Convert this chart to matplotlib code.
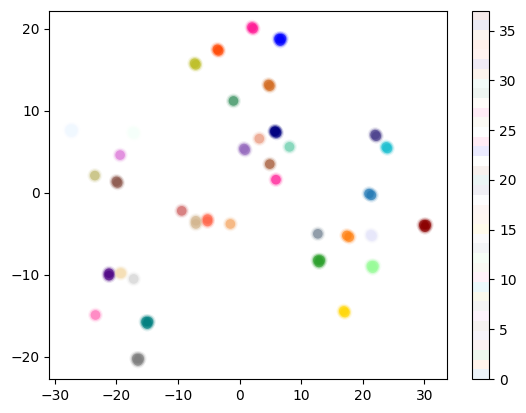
import numpy as np
import matplotlib
matplotlib.use('Agg')
import matplotlib.pyplot as plt
from matplotlib.colors import ListedColormap, Normalize

# one colour per cluster label (0..37)
colors = ['tab:blue', 'tab:orange', 'tab:green', 'indianred', 'tab:purple',
          'tab:brown', 'orchid', 'tab:gray', 'tab:olive', 'tab:cyan',
          'hotpink', 'darkkhaki', 'palegreen', 'slategray', 'lightgray',
          'gold', 'sandybrown', 'darksalmon', 'lavender', 'darkslateblue',
          'teal', 'sienna', 'mintcream', 'blue', 'deeppink',
          'aliceblue', 'tan', 'deeppink', 'wheat', 'seagreen',
          'mediumaquamarine', 'chocolate', 'indigo', 'tomato', 'orangered',
          'peru', 'navy', 'darkred']

# embedded points (x, y, cluster label)
xs = [21.0, 21.4, 17.4, 17.8, 12.7, 13.1, 12.9, -9.4, 0.7, 0.9,
      -20.0, -19.8, -19.4, -16.7, -16.3, -16.5, -7.3, -7.1, 23.8, 24.0,
      -23.4, -23.5, 21.4, 21.8, 21.6, 12.7, -17.2, 16.9, 17.1, -1.5,
      3.2, 21.3, 21.5, 22.0, 22.2, -15.2, -14.8, -15.0, 4.9, -17.3,
      -17.1, 6.4, 6.8, 6.6, 2.0, 2.2, -27.5, -27.1, -27.3, -7.1,
      -7.1, 5.9, -19.4, -19.2, -1.0, 8.1, 4.7, 4.9, -21.2, -21.2,
      -5.2, -5.2, -3.6, -3.4, 5.7, 5.8, 6.0, 29.9, 30.3, 30.1]
ys = [-0.1, -0.3, -5.2, -5.4, -8.2, -8.2, -8.5, -2.2, 5.4, 5.2,
      1.4, 1.2, 4.6, -20.2, -20.2, -20.5, 15.8, 15.6, 5.6, 5.4,
      -14.9, 2.1, -8.9, -8.9, -9.2, -5.0, -10.5, -14.4, -14.6, -3.8,
      6.6, -5.1, -5.3, 7.1, 6.9, -15.7, -15.7, -16.0, 3.5, 7.4,
      7.2, 18.8, 18.8, 18.5, 20.2, 20.0, 7.7, 7.7, 7.4, -3.4,
      -3.8, 1.6, -9.8, -9.8, 11.2, 5.6, 13.2, 13.0, -9.8, -10.1,
      -3.2, -3.5, 17.5, 17.3, 7.5, 7.5, 7.3, -3.9, -3.9, -4.2]
labels = [0, 0, 1, 1, 2, 2, 2, 3, 4, 4,
          5, 5, 6, 7, 7, 7, 8, 8, 9, 9,
          10, 11, 12, 12, 12, 13, 14, 15, 15, 16,
          17, 18, 18, 19, 19, 20, 20, 20, 21, 22,
          22, 23, 23, 23, 24, 24, 25, 25, 25, 26,
          26, 27, 28, 28, 29, 30, 31, 31, 32, 32,
          33, 33, 34, 34, 36, 36, 36, 37, 37, 37]

cmap = ListedColormap(colors)
norm = Normalize(vmin=0, vmax=37)

fig = plt.figure(figsize=(5.26, 4.13), dpi=100)
ax = fig.add_axes([0.0937, 0.0823, 0.7553, 0.8918])
cax = fig.add_axes([0.8968, 0.0823, 0.0335, 0.8918])

# soft halo + denser core to mimic many overlapping transparent points
ax.scatter(xs, ys, c=labels, cmap=cmap, norm=norm, s=115, alpha=0.10, linewidths=0)
ax.scatter(xs, ys, c=labels, cmap=cmap, norm=norm, s=78, alpha=0.25, linewidths=0)
sc = ax.scatter(xs, ys, c=labels, cmap=cmap, norm=norm, s=48, alpha=0.65, linewidths=0)

ax.set_xlim(-30.9, 33.6)
ax.set_ylim(-22.7, 22.2)
ax.set_xticks([-30, -20, -10, 0, 10, 20, 30])
ax.set_yticks([-20, -10, 0, 10, 20])

cb = fig.colorbar(sc, cax=cax)
cb.solids.set_alpha(0.08)
cb.set_ticks([0, 5, 10, 15, 20, 25, 30, 35])

plt.savefig('out.png', dpi=100)
plt.close()
